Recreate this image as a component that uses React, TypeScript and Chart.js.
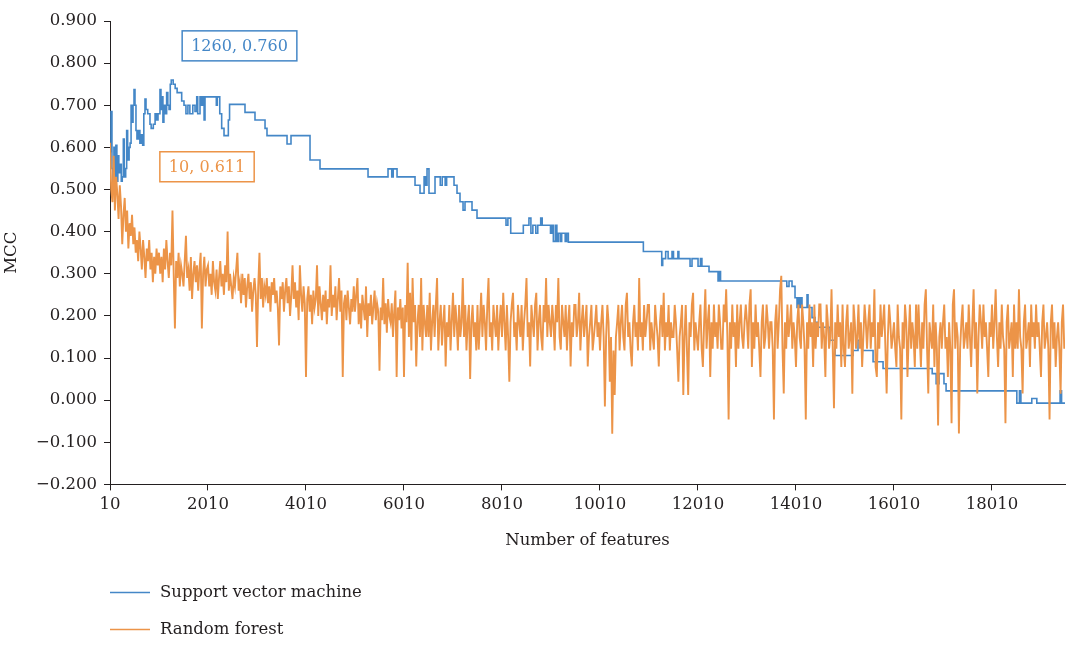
import React, { useEffect, useRef } from 'react';
import { Chart, registerables } from 'chart.js';

Chart.register(...registerables);

// ---- Data ----
const SERIES_NAMES = ['Support vector machine', 'Random forest'];
const X_TICKS = [10, 2010, 4010, 6010, 8010, 10010, 12010, 14010, 16010, 18010];
const X_MIN = 10;
const X_MAX = 19500;
const Y_MIN = -0.2;
const Y_MAX = 0.9;
const Y_STEP = 0.1;

// Support vector machine: [number of features where level starts, MCC]
const SVM_STEPS: [number, number][] = [
  [10, 0.59], [30, 0.685], [50, 0.55], [70, 0.505], [90, 0.6], [110, 0.53], [130, 0.605], [150, 0.52],
  [170, 0.58], [190, 0.54], [214, 0.56], [240, 0.52], [260, 0.53], [282, 0.62], [300, 0.53], [330, 0.55],
  [350, 0.64], [370, 0.57], [400, 0.6], [420, 0.61], [440, 0.7], [460, 0.66], [480, 0.7], [500, 0.737],
  [520, 0.7], [540, 0.64], [560, 0.62], [590, 0.64], [620, 0.61], [650, 0.63], [677, 0.605], [700, 0.68],
  [724, 0.715], [745, 0.69], [780, 0.68], [826, 0.655], [850, 0.645], [894, 0.655], [930, 0.68], [962, 0.665],
  [990, 0.68], [1030, 0.737], [1050, 0.69], [1070, 0.72], [1090, 0.66], [1110, 0.7], [1140, 0.68], [1166, 0.73],
  [1190, 0.7], [1215, 0.69], [1240, 0.75], [1260, 0.76], [1300, 0.75], [1340, 0.74], [1380, 0.73], [1473, 0.71],
  [1520, 0.7], [1560, 0.68], [1600, 0.7], [1640, 0.68], [1700, 0.7], [1745, 0.685], [1780, 0.72], [1800, 0.68],
  [1847, 0.72], [1880, 0.7], [1900, 0.72], [1930, 0.665], [1949, 0.72], [2180, 0.7], [2200, 0.72], [2250, 0.68],
  [2289, 0.645], [2337, 0.628], [2425, 0.665], [2450, 0.702], [2765, 0.683], [2969, 0.665], [3174, 0.645], [3214, 0.628],
  [3623, 0.608], [3704, 0.628], [4092, 0.57], [4296, 0.549], [5276, 0.53], [5684, 0.549], [5760, 0.53], [5790, 0.549],
  [5868, 0.53], [6235, 0.51], [6337, 0.491], [6420, 0.53], [6450, 0.51], [6480, 0.549], [6520, 0.491], [6643, 0.53],
  [6750, 0.51], [6790, 0.53], [6850, 0.51], [6880, 0.53], [7031, 0.51], [7092, 0.491], [7153, 0.471], [7215, 0.451],
  [7255, 0.471], [7398, 0.451], [7500, 0.432], [8092, 0.415], [8130, 0.432], [8188, 0.396], [8445, 0.415], [8560, 0.432],
  [8600, 0.396], [8640, 0.415], [8700, 0.396], [8740, 0.415], [8800, 0.432], [8830, 0.415], [9000, 0.396], [9030, 0.415],
  [9058, 0.377], [9100, 0.415], [9130, 0.377], [9160, 0.396], [9200, 0.377], [9228, 0.396], [9300, 0.377], [9330, 0.396],
  [9364, 0.375], [10895, 0.353], [11270, 0.32], [11290, 0.336], [11350, 0.353], [11400, 0.336], [11480, 0.353], [11510, 0.336],
  [11600, 0.353], [11620, 0.336], [11848, 0.318], [11888, 0.336], [12011, 0.318], [12060, 0.336], [12090, 0.318], [12235, 0.305],
  [12419, 0.283], [12450, 0.305], [12470, 0.283], [13822, 0.27], [13868, 0.283], [13929, 0.27], [13990, 0.243], [14031, 0.22],
  [14060, 0.243], [14080, 0.22], [14110, 0.243], [14133, 0.22], [14235, 0.25], [14256, 0.22], [14337, 0.196], [14399, 0.185],
  [14460, 0.173], [14705, 0.142], [14807, 0.106], [15174, 0.118], [15276, 0.142], [15358, 0.118], [15583, 0.091], [15787, 0.075],
  [16790, 0.063], [16870, 0.039], [16930, 0.063], [17030, 0.039], [17073, 0.022], [18517, -0.007], [18570, 0.022], [18600, -0.007],
  [18822, 0.004], [18925, -0.007], [19400, 0.022], [19430, -0.007], [19500, -0.007],
];

// Random forest: MCC every RF_STEP features starting at RF_START (one row = 500 features)
const RF_START = 10;
const RF_STEP = 25;
const RF_MCC = [
  0.611, 0.50, 0.47, 0.58, 0.45, 0.53, 0.49, 0.43, 0.51, 0.46, 0.37, 0.44, 0.48, 0.40, 0.45, 0.36, 0.42, 0.39, 0.44, 0.37,
  0.41, 0.35, 0.38, 0.33, 0.40, 0.36, 0.31, 0.38, 0.34, 0.29, 0.36, 0.33, 0.38, 0.31, 0.35, 0.28, 0.34, 0.30, 0.36, 0.32,
  0.35, 0.30, 0.34, 0.28, 0.36, 0.31, 0.38, 0.33, 0.29, 0.35, 0.32, 0.45, 0.30, 0.17, 0.33, 0.29, 0.35, 0.27, 0.32, 0.30,
  0.27, 0.33, 0.39, 0.29, 0.31, 0.26, 0.34, 0.24, 0.30, 0.33, 0.28, 0.32, 0.26, 0.31, 0.35, 0.17, 0.30, 0.34, 0.27, 0.31,
  0.32, 0.27, 0.30, 0.25, 0.33, 0.28, 0.26, 0.31, 0.24, 0.29, 0.33, 0.27, 0.30, 0.25, 0.32, 0.28, 0.40, 0.26, 0.30, 0.27,
  0.24, 0.29, 0.27, 0.31, 0.35, 0.26, 0.28, 0.23, 0.30, 0.25, 0.29, 0.22, 0.27, 0.30, 0.24, 0.28, 0.21, 0.26, 0.29, 0.25,
  0.126, 0.27, 0.35, 0.24, 0.29, 0.22, 0.27, 0.25, 0.29, 0.23, 0.27, 0.21, 0.28, 0.25, 0.29, 0.23, 0.26, 0.22, 0.13, 0.27,
  0.24, 0.28, 0.21, 0.26, 0.29, 0.23, 0.27, 0.20, 0.25, 0.32, 0.24, 0.28, 0.22, 0.26, 0.19, 0.32, 0.25, 0.21, 0.27, 0.23,
  0.055, 0.24, 0.27, 0.21, 0.25, 0.18, 0.26, 0.22, 0.24, 0.32, 0.20, 0.27, 0.23, 0.19, 0.25, 0.21, 0.26, 0.18, 0.24, 0.22,
  0.32, 0.20, 0.25, 0.22, 0.27, 0.19, 0.24, 0.29, 0.21, 0.26, 0.055, 0.23, 0.25, 0.19, 0.26, 0.22, 0.18, 0.24, 0.21, 0.27,
  0.21, 0.25, 0.29, 0.18, 0.23, 0.17, 0.25, 0.22, 0.19, 0.27, 0.15, 0.23, 0.20, 0.25, 0.18, 0.22, 0.26, 0.19, 0.23, 0.21,
  0.07, 0.22, 0.19, 0.29, 0.18, 0.23, 0.16, 0.24, 0.20, 0.185, 0.23, 0.15, 0.21, 0.26, 0.055, 0.22, 0.19, 0.24, 0.17, 0.22,
  0.055, 0.226, 0.185, 0.326, 0.15, 0.255, 0.118, 0.29, 0.185, 0.226, 0.08, 0.185, 0.226, 0.15, 0.29, 0.118, 0.226, 0.185, 0.15, 0.226,
  0.15, 0.255, 0.118, 0.185, 0.226, 0.15, 0.226, 0.29, 0.118, 0.185, 0.226, 0.13, 0.185, 0.226, 0.08, 0.185, 0.15, 0.226, 0.118, 0.19,
  0.255, 0.15, 0.226, 0.185, 0.118, 0.226, 0.15, 0.185, 0.29, 0.15, 0.226, 0.118, 0.185, 0.226, 0.05, 0.185, 0.226, 0.15, 0.185, 0.118,
  0.226, 0.12, 0.185, 0.255, 0.15, 0.226, 0.185, 0.118, 0.226, 0.29, 0.15, 0.185, 0.118, 0.226, 0.185, 0.15, 0.226, 0.118, 0.185, 0.226,
  0.15, 0.255, 0.185, 0.118, 0.226, 0.15, 0.044, 0.185, 0.226, 0.255, 0.15, 0.185, 0.118, 0.226, 0.185, 0.15, 0.226, 0.118, 0.185, 0.226,
  0.29, 0.15, 0.185, 0.08, 0.226, 0.185, 0.15, 0.226, 0.255, 0.118, 0.185, 0.226, 0.15, 0.118, 0.226, 0.185, 0.29, 0.15, 0.226, 0.185,
  0.15, 0.226, 0.185, 0.118, 0.226, 0.185, 0.29, 0.15, 0.12, 0.226, 0.185, 0.15, 0.226, 0.118, 0.185, 0.226, 0.08, 0.185, 0.15, 0.226,
  0.226, 0.15, 0.185, 0.255, 0.118, 0.185, 0.226, 0.15, 0.185, 0.226, 0.08, 0.15, 0.185, 0.226, 0.118, 0.15, 0.185, 0.226, 0.15, 0.185,
  0.118, 0.185, 0.226, 0.15, -0.015, 0.15, 0.226, 0.185, 0.044, 0.15, -0.08, 0.118, 0.012, 0.15, 0.185, 0.226, 0.118, 0.185, 0.226, 0.15,
  0.118, 0.226, 0.255, 0.15, 0.185, 0.118, 0.08, 0.185, 0.226, 0.15, 0.185, 0.118, 0.29, 0.15, 0.185, 0.118, 0.226, 0.15, 0.185, 0.226,
  0.226, 0.118, 0.185, 0.15, 0.12, 0.226, 0.185, 0.15, 0.08, 0.185, 0.226, 0.15, 0.255, 0.118, 0.185, 0.15, 0.226, 0.118, 0.185, 0.15,
  0.15, 0.226, 0.185, 0.118, 0.044, 0.15, 0.185, 0.226, 0.012, 0.15, 0.226, 0.118, 0.012, 0.185, 0.15, 0.226, 0.255, 0.118, 0.185, 0.15,
  0.118, 0.185, 0.227, 0.122, 0.079, 0.185, 0.263, 0.122, 0.185, 0.227, 0.055, 0.185, 0.122, 0.227, 0.15, 0.185, 0.122, 0.227, 0.185, 0.122,
  0.122, 0.227, 0.185, 0.263, 0.15, -0.046, 0.185, 0.122, 0.227, 0.15, 0.185, 0.079, 0.227, 0.122, 0.185, 0.227, 0.15, 0.122, 0.185, 0.227,
  0.185, 0.122, 0.227, 0.263, 0.079, 0.185, 0.122, 0.227, 0.15, 0.185, 0.122, 0.055, 0.185, 0.227, 0.122, 0.15, 0.227, 0.185, 0.122, 0.185,
  0.185, 0.122, -0.046, 0.185, 0.227, 0.122, 0.185, 0.263, 0.295, 0.122, 0.016, 0.185, 0.122, 0.227, 0.15, 0.185, 0.227, 0.122, 0.185, 0.15,
  0.079, 0.185, 0.227, 0.15, 0.122, 0.227, 0.185, 0.122, -0.046, 0.185, 0.122, 0.227, 0.15, 0.185, 0.079, 0.227, 0.122, 0.185, 0.15, 0.227,
  0.227, 0.122, 0.185, 0.15, 0.055, 0.227, 0.185, 0.122, 0.15, 0.263, 0.122, -0.019, 0.185, 0.122, 0.227, 0.15, 0.185, 0.079, 0.227, 0.122,
  0.079, 0.185, 0.227, 0.122, 0.15, 0.185, 0.015, 0.227, 0.185, 0.122, 0.15, 0.227, 0.122, 0.185, 0.079, 0.15, 0.227, 0.185, 0.122, 0.185,
  0.227, 0.122, 0.185, 0.15, 0.263, 0.079, 0.055, 0.185, 0.122, 0.227, 0.15, 0.185, 0.227, 0.122, 0.016, 0.15, 0.227, 0.185, 0.122, 0.15,
  0.185, 0.122, 0.079, 0.227, 0.15, 0.122, -0.046, 0.185, 0.122, 0.227, 0.185, 0.055, 0.15, 0.227, 0.122, 0.185, 0.15, 0.079, 0.227, 0.122,
  0.227, 0.15, 0.079, 0.185, 0.122, 0.227, 0.263, 0.122, 0.016, 0.185, 0.15, 0.122, 0.227, 0.079, 0.185, 0.122, -0.06, 0.15, 0.185, 0.122,
  0.185, 0.227, 0.122, 0.15, 0.055, 0.185, 0.122, -0.055, 0.227, 0.263, 0.122, 0.185, 0.15, -0.079, 0.122, 0.185, 0.227, 0.122, 0.15, 0.185,
  0.122, 0.227, 0.15, 0.079, 0.185, 0.263, 0.122, 0.185, 0.016, 0.15, 0.227, 0.185, 0.122, 0.227, 0.15, 0.185, 0.122, 0.055, 0.185, 0.15,
  0.227, 0.122, 0.185, 0.263, 0.15, 0.079, 0.185, 0.122, 0.227, 0.15, 0.122, -0.055, 0.185, 0.227, 0.122, 0.15, 0.185, 0.055, 0.227, 0.122,
  0.185, 0.122, 0.263, 0.15, 0.122, 0.016, 0.185, 0.227, 0.122, 0.15, 0.185, 0.079, 0.227, 0.15, 0.185, 0.122, 0.227, 0.15, 0.185, 0.122,
  0.055, 0.185, 0.227, 0.122, 0.15, 0.185, 0.122, -0.046, 0.185, 0.227, 0.122, 0.185, 0.079, 0.15, 0.185, 0.122, 0.015, 0.185, 0.227, 0.122,
];

// Callout labels (data units)
const CALLOUT_TEXTS = ['1260, 0.760', '10, 0.611'];
const CALLOUT_X = [2653, 1990];
const CALLOUT_Y = [0.841, 0.554];

// ---- Style ----
const BLUE = '#4487c7';
const ORANGE = '#ec9448';
const TEXT = '#231f20';
const AXIS = '#231f20';
const FAMILY = '"DejaVu Serif", "Liberation Serif", serif';
const FONT = { family: FAMILY, size: 16.5 };

const fmtY = (v: number) => {
  const n = Math.round(v * 10) / 10;
  return (n < 0 ? '\u2212' : '') + Math.abs(n).toFixed(3);
};

const calloutPlugin = {
  id: 'callouts',
  afterDatasetsDraw(chart: any) {
    const { ctx, scales } = chart;
    const colors = [BLUE, ORANGE];
    ctx.save();
    ctx.font = `16px ${FAMILY}`;
    CALLOUT_TEXTS.forEach((t, i) => {
      const cx = scales.x.getPixelForValue(CALLOUT_X[i]);
      const cy = scales.y.getPixelForValue(CALLOUT_Y[i]);
      const w = ctx.measureText(t).width + 18;
      const h = 30;
      ctx.fillStyle = '#ffffff';
      ctx.fillRect(cx - w / 2, cy - h / 2, w, h);
      ctx.strokeStyle = colors[i];
      ctx.lineWidth = 1.5;
      ctx.strokeRect(cx - w / 2, cy - h / 2, w, h);
      ctx.fillStyle = colors[i];
      ctx.textAlign = 'center';
      ctx.textBaseline = 'middle';
      ctx.fillText(t, cx, cy + 1);
    });
    ctx.restore();
  },
};

const legendPlugin = {
  id: 'stackedLegend',
  afterDraw(chart: any) {
    const { ctx, chartArea } = chart;
    const colors = [BLUE, ORANGE];
    ctx.save();
    ctx.font = `16.5px ${FAMILY}`;
    ctx.textBaseline = 'middle';
    ctx.textAlign = 'left';
    SERIES_NAMES.forEach((name, i) => {
      const y = chartArea.bottom + 108 + i * 37;
      ctx.strokeStyle = colors[i];
      ctx.lineWidth = 1.5;
      ctx.beginPath();
      ctx.moveTo(chartArea.left, y);
      ctx.lineTo(chartArea.left + 40, y);
      ctx.stroke();
      ctx.fillStyle = TEXT;
      ctx.fillText(name, chartArea.left + 50, y);
    });
    ctx.restore();
  },
};

export default function App() {
  const ref = useRef<HTMLCanvasElement>(null);
  useEffect(() => {
    const canvas = ref.current;
    if (!canvas) return;
    const chart = new Chart(canvas, {
      type: 'line',
      data: {
        datasets: [
          {
            label: SERIES_NAMES[0],
            data: SVM_STEPS.map(([x, y]) => ({ x, y })),
            borderColor: BLUE,
            backgroundColor: BLUE,
            borderWidth: 1.6,
            pointRadius: 0,
            stepped: 'before',
            order: 1,
          },
          {
            label: SERIES_NAMES[1],
            data: RF_MCC.map((y, i) => ({ x: RF_START + i * RF_STEP, y })),
            borderColor: ORANGE,
            backgroundColor: ORANGE,
            borderWidth: 1.9,
            pointRadius: 0,
            order: 0,
          },
        ],
      },
      options: {
        animation: false,
        responsive: false,
        maintainAspectRatio: false,
        layout: { padding: { top: 21, right: 2, bottom: 95, left: 0 } },
        plugins: { legend: { display: false }, tooltip: { enabled: false } },
        scales: {
          x: {
            type: 'linear',
            min: X_MIN,
            max: X_MAX,
            afterBuildTicks: (s: any) => {
              s.ticks = X_TICKS.map((v) => ({ value: v }));
            },
            ticks: {
              autoSkip: false,
              maxRotation: 0,
              padding: 4,
              color: TEXT,
              font: FONT,
              callback: (v: any) => String(v),
            },
            grid: { drawOnChartArea: false, tickLength: 6, color: AXIS, lineWidth: 1 },
            border: { display: true, color: AXIS, width: 1 },
            title: {
              display: true,
              text: 'Number of features',
              color: TEXT,
              font: FONT,
              padding: { top: 13, bottom: 0 },
            },
          },
          y: {
            type: 'linear',
            min: Y_MIN,
            max: Y_MAX,
            afterFit: (s: any) => {
              s.width = 110;
            },
            ticks: {
              stepSize: Y_STEP,
              padding: 7,
              color: TEXT,
              font: FONT,
              callback: (v: any) => fmtY(Number(v)),
            },
            grid: { drawOnChartArea: false, tickLength: 6, color: AXIS, lineWidth: 1 },
            border: { display: true, color: AXIS, width: 1 },
            title: {
              display: true,
              text: 'MCC',
              color: TEXT,
              font: FONT,
              padding: { top: 2, bottom: 0 },
            },
          },
        },
      },
      plugins: [calloutPlugin, legendPlugin],
    });
    return () => chart.destroy();
  }, []);
  return (
    <div style={{ position: 'absolute', left: 0, top: 0, width: 1067, height: 646, background: '#fff' }}>
      <canvas ref={ref} width={1067} height={646} style={{ display: 'block' }} />
    </div>
  );
}
